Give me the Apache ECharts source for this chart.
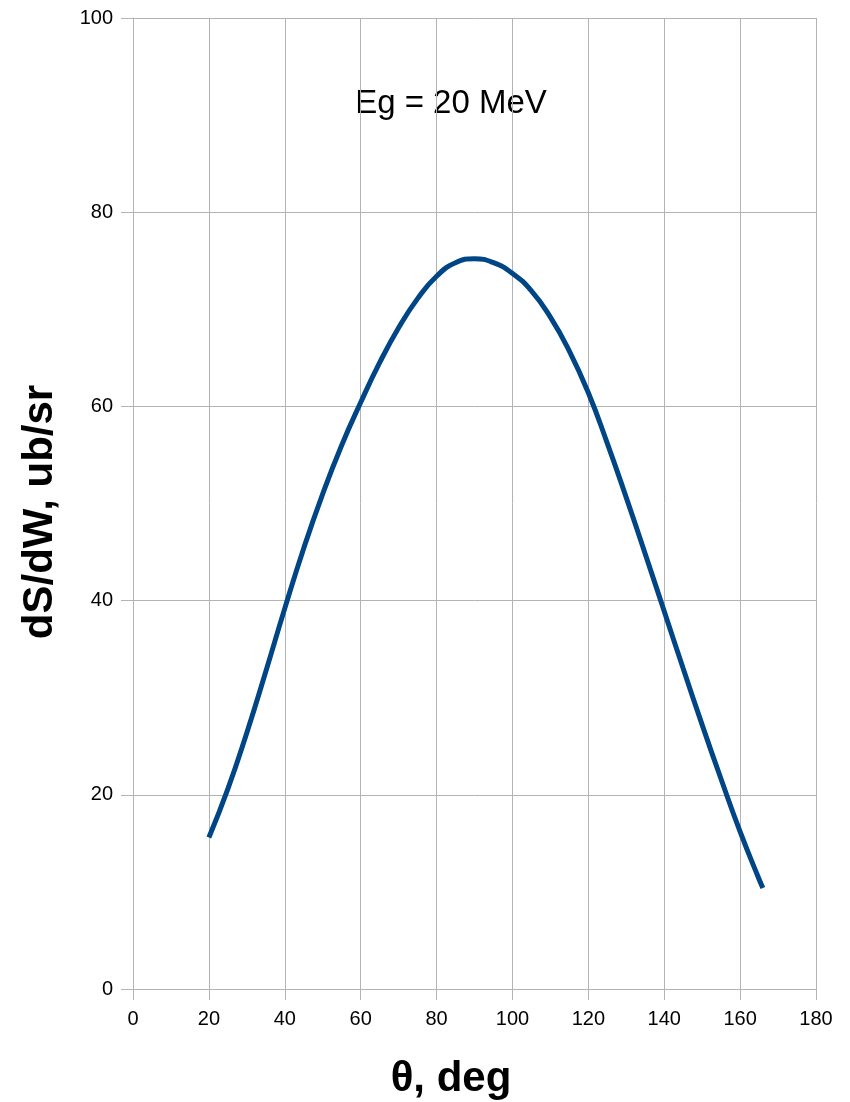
<!DOCTYPE html>
<html>
<head>
<meta charset="utf-8">
<script src="https://cdn.jsdelivr.net/npm/echarts@6/dist/echarts.min.js"></script>
<style>
html,body{margin:0;padding:0;background:#fff;}
#chart{width:850px;height:1102px;}
</style>
</head>
<body>
<div id="chart"></div>
<script>
// Data
const theta = [20, 25, 30, 35, 40, 45, 50, 55, 60, 65, 70, 75, 80, 85, 90, 95, 100, 105, 110, 115, 120, 125, 130, 135, 140, 145, 150, 155, 160, 165, 166];
const dsdw  = [15.6, 20.6, 26.4, 32.7, 39.2, 45.4, 51.0, 56.0, 60.4, 64.5, 68.1, 71.1, 73.4, 74.8, 75.2, 74.8, 73.7, 71.9, 69.2, 65.7, 61.4, 56.2, 50.6, 44.8, 38.9, 33.0, 27.2, 21.6, 16.2, 11.3, 10.4];
const xTicks = [0, 20, 40, 60, 80, 100, 120, 140, 160, 180];
const yTicks = [0, 20, 40, 60, 80, 100];
const xTitle = 'θ, deg';
const yTitle = 'dS/dW, ub/sr';
const note = 'Eg = 20 MeV';

const chart = echarts.init(document.getElementById('chart'));
const font = '"Liberation Sans", Arial, sans-serif';
const gridColor = '#b3b3b3';
chart.setOption({
  animation: false,
  backgroundColor: '#ffffff',
  grid: { left: 133, right: 34, top: 18, bottom: 113, containLabel: false },
  xAxis: {
    type: 'value', min: xTicks[0], max: xTicks[xTicks.length - 1], interval: 20,
    axisLine: { show: true, lineStyle: { color: gridColor, width: 1 } },
    axisTick: { show: true, inside: false, length: 11, lineStyle: { color: gridColor } },
    splitLine: { show: true, lineStyle: { color: gridColor, width: 1 } },
    axisLabel: { color: '#000', fontSize: 20, fontFamily: font, margin: 20 }
  },
  yAxis: {
    type: 'value', min: yTicks[0], max: yTicks[yTicks.length - 1], interval: 20,
    axisLine: { show: true, lineStyle: { color: gridColor, width: 1 } },
    axisTick: { show: true, inside: false, length: 12, lineStyle: { color: gridColor } },
    splitLine: { show: true, lineStyle: { color: gridColor, width: 1 } },
    axisLabel: { color: '#000', fontSize: 20, fontFamily: font, margin: 20 }
  },
  series: [{
    type: 'line',
    data: theta.map((t, i) => [t, dsdw[i]]),
    smooth: true,
    showSymbol: false,
    lineStyle: { color: '#004586', width: 5 },
    itemStyle: { color: '#004586' }
  }],
  graphic: [
    { type: 'text', x: 451, y: 104, style: { text: note, font: '33px ' + font, fill: '#000', textAlign: 'center', textVerticalAlign: 'middle' } },
    { type: 'text', x: 451, y: 1079, style: { text: xTitle, font: 'bold 42px ' + font, fill: '#000', textAlign: 'center', textVerticalAlign: 'middle' } },
    { type: 'text', x: 40, y: 512, rotation: Math.PI / 2, style: { text: yTitle, font: 'bold 42px ' + font, fill: '#000', textAlign: 'center', textVerticalAlign: 'middle' } }
  ]
});
</script>
</body>
</html>
